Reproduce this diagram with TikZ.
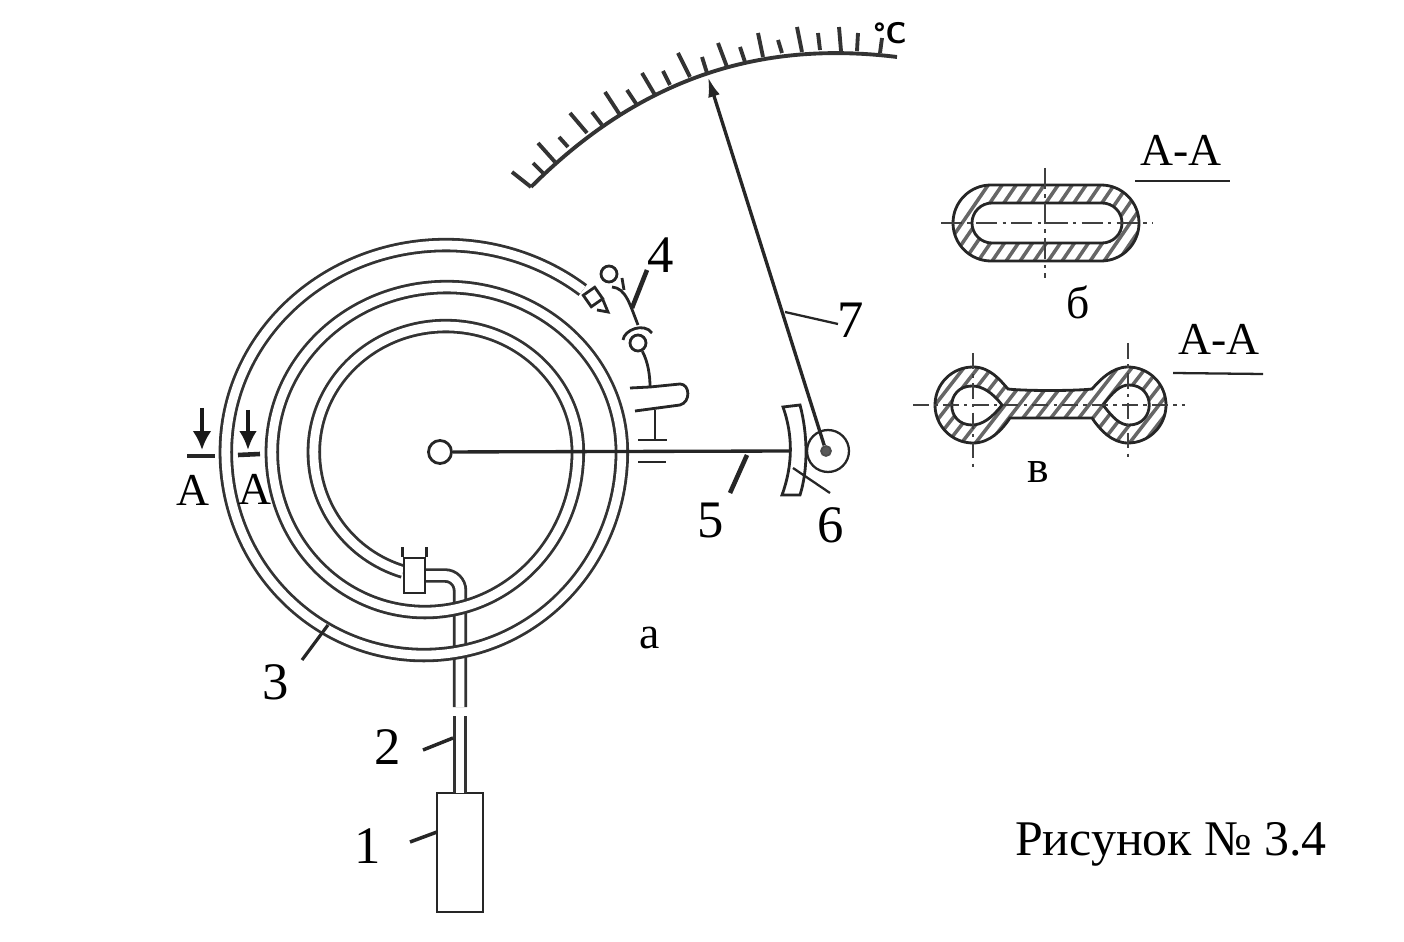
\documentclass[tikz,border=0pt]{standalone}
\usepackage{fontspec}
\setmainfont{Liberation Serif}
\usetikzlibrary{arrows.meta}
\tikzset{
  ink/.style={draw=black!85,line width=1.6pt},
  tube/.style={draw=black!80,line width=1.6pt,double=white,double distance=5pt},
  leader/.style={draw=black!85,line width=1.3pt},
  heavy leader/.style={draw=black!85,line width=2.6pt},
  scale ink/.style={draw=black!80,line width=2.2pt},
  axisline/.style={draw=black!75,line width=.8pt,dash pattern=on 12pt off 3pt on 2pt off 3pt},
  hatchline/.style={draw=black!60,line width=2pt},
  lab/.style={font=\fontsize{30}{30}\selectfont,inner sep=0pt},
  sec/.style={font=\fontsize{26}{26}\selectfont,inner sep=0pt}
}
\begin{document}
\begin{tikzpicture}[x=0.02cm,y=-0.02cm]
  \useasboundingbox (0,0) rectangle (1404,942);

  \node[draw=black!85,line width=1.6pt,minimum width=.92cm,minimum height=2.38cm,inner sep=0pt] (bulb) at (460,852.5) {};
  \coordinate (gap1) at (460,707);
  \coordinate (gap2) at (460,716);
  \coordinate (bulbtop) at (460,793);
  \node[draw=none,minimum width=.42cm,minimum height=.7cm,inner sep=0pt] (clampin) at (414.5,575.5) {};

  \draw[tube,rounded corners=.3cm] (clampin.east) -| (gap1);
  \draw[tube] (gap2) -- (bulbtop);

  \draw[tube] (403,571.6) arc[start angle=107,end angle=180,x radius=126,y radius=125]
    arc[start angle=180,end angle=360,x radius=132,y radius=126]
    arc[start angle=0,end angle=180,x radius=153,y radius=160]
    arc[start angle=180,end angle=360,x radius=175,y radius=165]
    arc[start angle=0,end angle=180,x radius=198,y radius=203]
    arc[start angle=180,end angle=308.5,x radius=220,y radius=207];

  \node[draw=black!85,fill=white,line width=1.6pt,minimum width=.42cm,minimum height=.7cm,inner sep=0pt] (clamp) at (414.5,575.5) {};
  \draw[ink] (clamp.north west) -- +(0,-10);
  \draw[ink] (clamp.north east) -- +(0,-10);

  \node[circle,draw=black!85,line width=1.6pt,fill=white,minimum size=.46cm,inner sep=0pt] (hub) at (440,452) {};
  \node[circle,draw=black!85,line width=1.3pt,fill=white,minimum size=.84cm,inner sep=0pt] (roller) at (828,451) {};
  \node[circle,draw=black!70,fill=black!65,line width=1pt,minimum size=.2cm,inner sep=0pt] (pin) at (826,451) {};
  \draw[ink,fill=white] (783,407) -- (800,405) .. controls (808,435) and (808,470) .. (800,495)
    -- (782,495) .. controls (793,465) and (793,435) .. cycle;
  \node[inner sep=0pt] (sector) at (791,451) {};
  \draw[ink,line width=1.9pt] (hub) -- (sector);

  \coordinate (tip) at (708,77);
  \draw[ink,line width=1.9pt,-{Latex[length=.4cm,width=.24cm]}] (pin) -- (tip);

  \draw[ink] (638,440) -- (667,440);
  \draw[ink] (638,462) -- (666,462);
  \draw[ink] (655,410) -- (655,440);
  \draw[ink] (630,388) -- (650,387) -- (680,384) .. controls (690,384) and (691,402) .. (680,405) -- (635,411);

  \node[circle,draw=black!85,line width=1.6pt,minimum size=.32cm,inner sep=0pt] (pivotb) at (638,343) {};
  \draw[ink] (pivotb) .. controls (648,362) and (650,375) .. (650,387);
  \draw[ink] (623,340) .. controls (624,330) and (644,322) .. (652,333);
  \node[circle,draw=black!85,line width=1.6pt,minimum size=.32cm,inner sep=0pt] (pivota) at (609,274) {};
  \draw[ink] (612,287) .. controls (626,288) and (630,305) .. (638,325);
  \draw[ink] (622,278) -- (624,290);
  \draw[ink,fill=white,rotate around={35:(593,297)}] (586,290) rectangle (600,304);
  \draw[ink] (597,310) -- (608,312) -- (603,300);

  \draw[scale ink] (531,187) .. controls (640,78) and (760,40) .. (897,57);
  \foreach \xa/\ya/\xb/\yb in {512/172/531/187,533/163/543/173,538/143/555/162,559/137/568/147,570/113/587/133,592/112/602/125,605/92/620/115,627/90/637/105,642/73/655/95,663/71/670/85,678/53/690/77,702/57/707/73,718/43/727/67,740/47/745/62,758/33/763/57,778/40/782/53,797/27/802/52,818/33/820/50,839/27/841/51,858/33/857/51,882/38/880/53}
    \draw[scale ink] (\xa,\ya) -- (\xb,\yb);
  \node[inner sep=0pt,font=\fontsize{17}{17}\selectfont\bfseries\sffamily] (deg) at (890,33) {°C};

  \coordinate (leadAa) at (202,408);
  \coordinate (leadAb) at (202,450);
  \coordinate (leadBa) at (248,410);
  \coordinate (leadBb) at (248,450);
  \draw[draw=black!90,line width=2.8pt,-{Latex[length=.38cm,width=.38cm]}] (leadAa) -- (leadAb);
  \draw[draw=black!90,line width=2.8pt,-{Latex[length=.38cm,width=.36cm]}] (leadBa) -- (leadBb);
  \draw[heavy leader] (187,456) -- (215,456);
  \draw[heavy leader] (238,455) -- (260,454);
  \node[sec] (secA) at (193,490) {А};
  \node[sec] (secB) at (255,489) {А};

  \node[lab] (lab1) at (368,846) {1};
  \node[lab] (lab2) at (388,747) {2};
  \node[lab] (lab3) at (276,682) {3};
  \node[lab] (lab4) at (661,255) {4};
  \node[lab] (lab5) at (711,521) {5};
  \node[lab] (lab6) at (831,525) {6};
  \node[lab] (lab7) at (851,320) {7};

  \draw[heavy leader,line width=2pt] (410,842) -- (437,832);
  \draw[heavy leader,line width=2pt] (423,750) -- (453,738);
  \draw[heavy leader,line width=1.8pt] (328,625) -- (302,660);
  \draw[heavy leader] (647,270) -- (632,308);
  \draw[heavy leader] (747,455) -- (730,493);
  \draw[leader] (793,468) -- (830,493);
  \draw[leader] (785,312) -- (838,324);

  \node[sec] (cap1) at (1181,150) {А-А};
  \node[sec] (cap2) at (1219,339) {А-А};
  \draw[ink] (1135,181) -- (1230,181);
  \draw[ink,line width=1.3pt] (1173,373) -- (1263,374);
  \node[sec] (secb) at (1078,302) {б};
  \node[sec] (secv) at (1038,472) {в};
  \node[sec] (seca) at (650,638) {а};
  \node[sec,font=\fontsize{28.4}{29}\selectfont] (title) at (1171,844) {Рисунок № 3.4};

  \begin{scope}
    \clip[rounded corners=.76cm] (953,185) rectangle (1139,261);
    \foreach \k in {0,...,22}
      \draw[hatchline] (930+14*\k,270) -- (930+14*\k+65,175);
  \end{scope}
  \draw[ink,fill=white,rounded corners=.4cm] (972,203) rectangle (1122,243);
  \draw[ink,rounded corners=.76cm] (953,185) rectangle (1139,261);
  \draw[axisline] (941,223) -- (1153,223);
  \draw[axisline] (1045,168) -- (1045,278);

  \begin{scope}
    \clip (1008,389) .. controls (1025,391) and (1075,391) .. (1092,389)
      .. controls (1100,380) and (1112,367) .. (1128,367)
      arc[start angle=-90,end angle=90,radius=38]
      .. controls (1112,443) and (1100,430) .. (1092,418) -- (1010,418)
      .. controls (1002,430) and (990,443) .. (973,443)
      arc[start angle=90,end angle=270,radius=38]
      .. controls (990,367) and (1000,380) .. cycle;
    \foreach \k in {0,...,21}
      \draw[hatchline] (900+14*\k,450) -- (900+14*\k+70,360);
  \end{scope}
  \draw[ink] (1008,389) .. controls (1025,391) and (1075,391) .. (1092,389)
    .. controls (1100,380) and (1112,367) .. (1128,367)
    arc[start angle=-90,end angle=90,radius=38]
    .. controls (1112,443) and (1100,430) .. (1092,418) -- (1010,418)
    .. controls (1002,430) and (990,443) .. (973,443)
    arc[start angle=90,end angle=270,radius=38]
    .. controls (990,367) and (1000,380) .. cycle;
  \draw[ink,fill=white] (1002,405) .. controls (992,392) and (982,386) .. (972,386)
    .. controls (945,386) and (945,425) .. (972,425) .. controls (982,425) and (992,418) .. cycle;
  \draw[ink,fill=white] (1103,405) .. controls (1113,392) and (1120,385) .. (1129,385)
    .. controls (1156,385) and (1156,425) .. (1129,425) .. controls (1120,425) and (1113,418) .. cycle;
  \draw[axisline,dash pattern=on 9pt off 3pt on 2pt off 3pt] (913,405) -- (1185,405);
  \draw[axisline,dash pattern=on 9pt off 3pt on 2pt off 3pt] (973,353) -- (973,467);
  \draw[axisline,dash pattern=on 9pt off 3pt on 2pt off 3pt] (1128,343) -- (1128,460);
\end{tikzpicture}
\end{document}
